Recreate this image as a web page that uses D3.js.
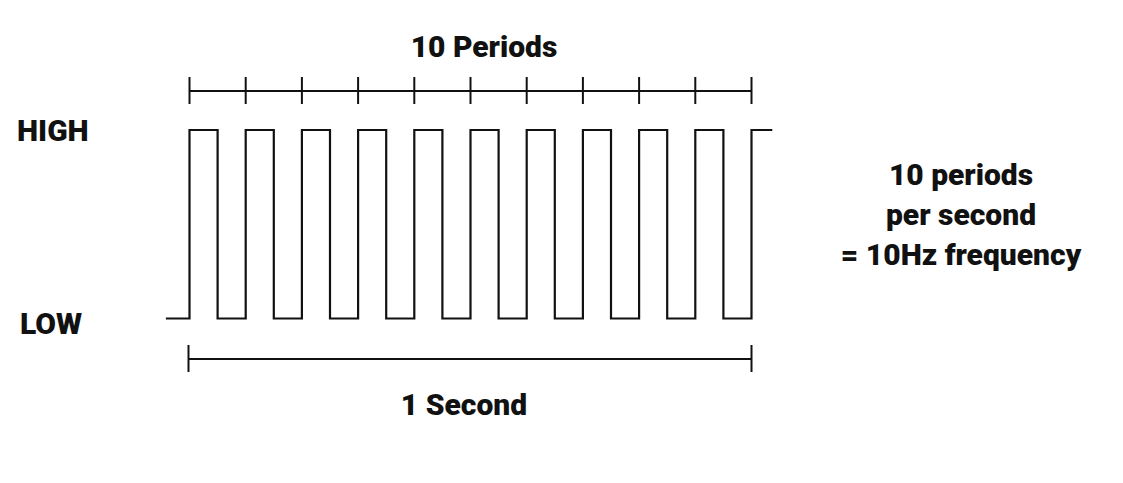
<!DOCTYPE html>
<html><head><meta charset="utf-8">
<script src="https://cdn.jsdelivr.net/npm/d3@7"></script>
<style>body{margin:0;background:#fff}text{font-family:Roboto,sans-serif;font-weight:900;fill:#111}</style>
</head><body>
<svg id="c" width="1123" height="483"></svg>
<script>
// square wave: 10 periods in 1 second, 50% duty
var periods = 10;
var duty = 0.5;
var levels = ["LOW", "HIGH"];
var rightNote = ["10 periods", "per second", "= 10Hz frequency"];

var svg = d3.select("#c");
var x = d3.scaleLinear().domain([0, 1]).range([189.5, 751.5]);
var y = d3.scaleOrdinal().domain(levels).range([318.5, 130]);

// build wave points from the period list
var pts = [[-0.042, "LOW"]];
d3.range(periods).forEach(function(i) {
  var t0 = i / periods, t1 = (i + duty) / periods, t2 = (i + 1) / periods;
  pts.push([t0, "LOW"], [t0, "HIGH"], [t1, "HIGH"], [t1, "LOW"], [t2, "LOW"]);
});
pts.push([1, "HIGH"], [1.037, "HIGH"]);

var line = d3.line().x(function(d) { return x(d[0]); }).y(function(d) { return y(d[1]); });
svg.append("path").attr("d", line(pts)).attr("fill", "none")
  .attr("stroke", "#111").attr("stroke-width", 2.2);

// top bracket with a tick per period
var topY = 91;
svg.append("line").attr("x1", x(0)).attr("x2", x(1)).attr("y1", topY).attr("y2", topY)
  .attr("stroke", "#111").attr("stroke-width", 2);
svg.selectAll(".tk").data(d3.range(periods + 1)).enter().append("line")
  .attr("x1", function(d) { return x(d / periods); }).attr("x2", function(d) { return x(d / periods); })
  .attr("y1", 77).attr("y2", 104).attr("stroke", "#111").attr("stroke-width", 2);
svg.append("text").attr("x", 484).attr("y", 57).attr("text-anchor", "middle")
  .attr("font-size", 30).text("10 Periods");

// bottom bracket
var botY = 359;
svg.append("line").attr("x1", x(0) - 1).attr("x2", x(1)).attr("y1", botY).attr("y2", botY)
  .attr("stroke", "#111").attr("stroke-width", 2);
[0, 1].forEach(function(t) {
  svg.append("line").attr("x1", x(t) - (t ? 0 : 1)).attr("x2", x(t) - (t ? 0 : 1))
    .attr("y1", 345).attr("y2", 372).attr("stroke", "#111").attr("stroke-width", 2);
});
svg.append("text").attr("x", 464).attr("y", 415).attr("text-anchor", "middle")
  .attr("font-size", 30).text("1 Second");

// level labels
svg.append("text").attr("x", 17).attr("y", 141).attr("font-size", 30).text("HIGH");
svg.append("text").attr("x", 20).attr("y", 334).attr("font-size", 30).text("LOW");

svg.selectAll(".rn").data(rightNote).enter().append("text")
  .attr("x", 961).attr("y", function(d, i) { return 185 + i * 40; })
  .attr("text-anchor", "middle").attr("font-size", 30).text(function(d) { return d; });
</script>
</body></html>
